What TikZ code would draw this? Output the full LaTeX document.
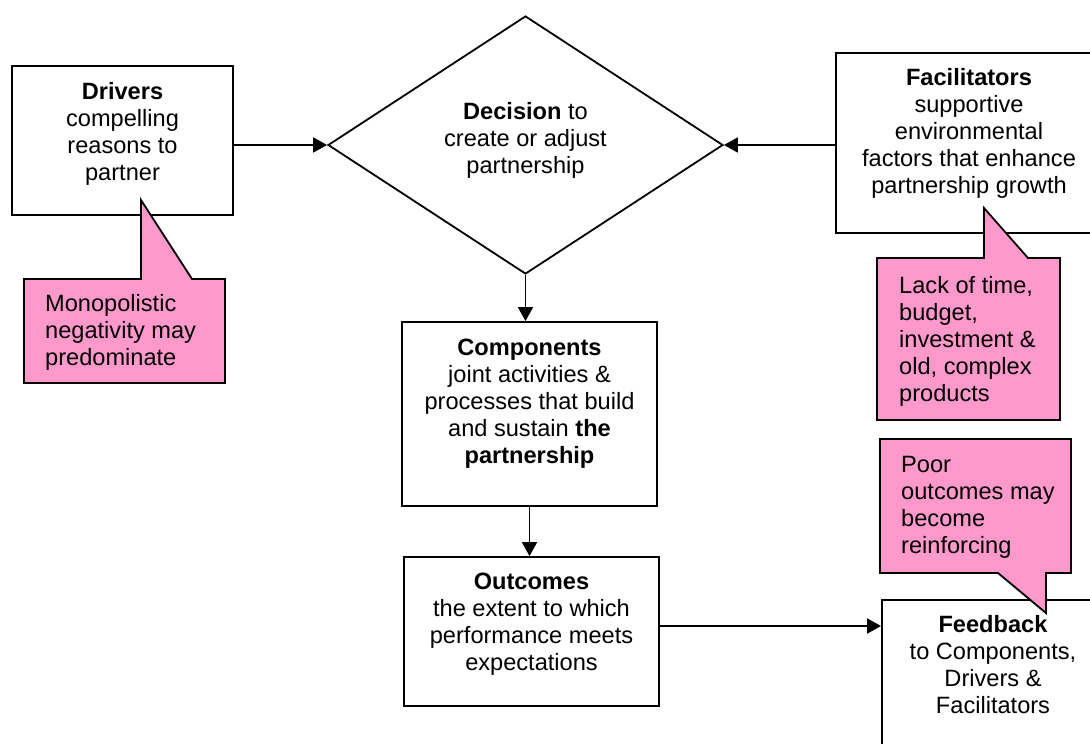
\documentclass[tikz,border=0pt]{standalone}
\usepackage{fontspec}
\setmainfont{Liberation Sans}
\usetikzlibrary{arrows.meta,positioning,shapes.geometric}
\definecolor{notepink}{HTML}{FF99CC}
\tikzset{
    every node/.style={font=\fontsize{23.6pt}{27pt}\selectfont, inner sep=0pt},
    box/.style={draw, line width=1.8pt, fill=white},
    txt/.style={align=center},
    note/.style={draw, line width=1.8pt, fill=notepink, line join=miter},
    notetxt/.style={align=left, anchor=north west},
    arr/.style={line width=1.8pt, -{Triangle[length=14pt,width=15pt]}}
}

\begin{document}
\begin{tikzpicture}[x=1pt,y=-1pt]
    \clip (0,0) rectangle (1090,744);
    % boxes
    \node [box, minimum width=221pt, minimum height=149pt] (drv) at (122.5,140.5) {};
    \node [box, diamond, minimum width=395pt, minimum height=258pt] (dec) at (525.5,145) {};
    \node [box, minimum width=266pt, minimum height=180pt] (fac) at (969,143) {};
    \node [box, minimum width=255pt, minimum height=184pt] (comp) at (529.5,414) {};
    \node [box, minimum width=255pt, minimum height=149pt] (out) at (531.5,631.5) {};
    \node [box, minimum width=222pt, minimum height=180pt] (fb) at (993,690) {};
    \node [txt, below=17pt of drv.north] (drvtxt) {\textbf{Drivers}\\compelling\\reasons to\\partner};
    \node [txt, below=87.5pt of dec.north] (dectxt) {\textbf{Decision} to\\create or adjust\\partnership};
    \node [txt, below=16.5pt of fac.north] (factxt) {\textbf{Facilitators}\\supportive\\environmental\\factors that enhance\\partnership growth};
    \node [txt, below=17.5pt of comp.north] (comptxt) {\textbf{Components}\\joint activities \&\\processes that build\\and sustain \textbf{the}\\\textbf{partnership}};
    \node [txt, below=16.5pt of out.north] (outtxt) {\textbf{Outcomes}\\the extent to which\\performance meets\\expectations};
    \node [txt, below=16.5pt of fb.north] (fbtxt) {\textbf{Feedback}\\to Components,\\Drivers \&\\Facilitators};
    % callouts
    \draw [note] (24,279) -- (141,279) -- (141,200) -- (192,279) -- (225,279) -- (225,383) -- (24,383) -- cycle;
    \draw [note] (877,258) -- (984,258) -- (984,208) -- (1028,258) -- (1060,258) -- (1060,420) -- (877,420) -- cycle;
    \draw [note] (880,439) -- (1071,439) -- (1071,573) -- (1046,573) -- (1046,613) -- (998,573) -- (880,573) -- cycle;
    \node [notetxt] (mono) at (45,294.5) {Monopolistic\\negativity may\\predominate};
    \node [notetxt] (lack) at (899,276.5) {Lack of time,\\budget,\\investment \&\\old, complex\\products};
    \node [notetxt] (poor) at (901,456.5) {Poor\\outcomes may\\become\\reinforcing};
    % connectors
    \draw [arr] (drv.east |- dec.west) -- (dec.west);
    \draw [arr] (fac.west |- dec.east) -- (dec.east);
    \draw [arr] (dec.south) -- (dec.south |- comp.north);
    \draw [arr] (comp.south) -- (comp.south |- out.north);
    \draw [arr] ([yshift=5.5pt]out.east) -- ([yshift=5.5pt]out.east -| fb.west);
\end{tikzpicture}
\end{document}
